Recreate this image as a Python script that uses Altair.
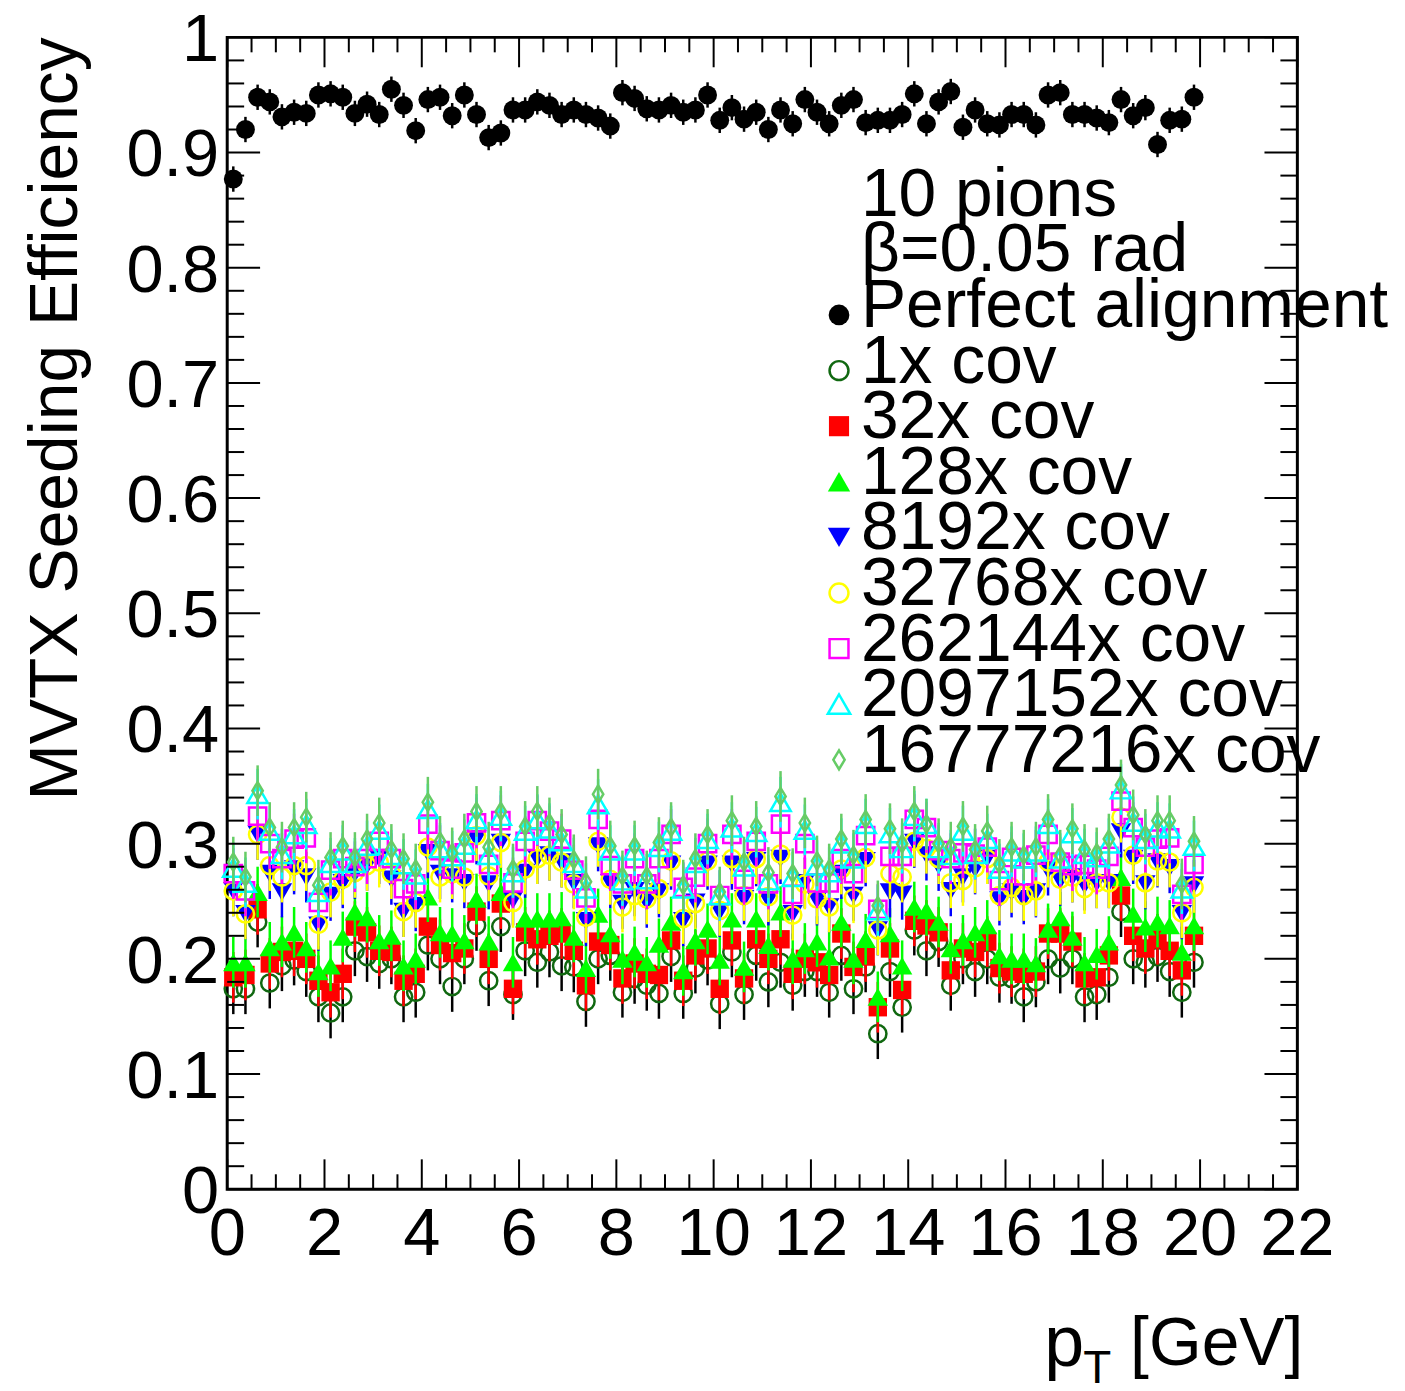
import altair as alt
import pandas as pd
import numpy as np

# ---------------- data ----------------
bin_edges = np.arange(0.0, 20.0001, 0.25)
pt = list((bin_edges[:-1] + bin_edges[1:]) / 2)

perfect = [0.877,0.920,0.948,0.944,0.931,0.935,0.934,0.950,0.951,0.948,
           0.934,0.942,0.933,0.955,0.941,0.919,0.946,0.948,0.932,0.950,
           0.933,0.913,0.917,0.937,0.937,0.944,0.941,0.933,0.937,0.933,
           0.930,0.923,0.952,0.947,0.938,0.937,0.941,0.935,0.937,0.950,
           0.928,0.939,0.929,0.935,0.920,0.937,0.925,0.946,0.935,0.925,
           0.941,0.946,0.926,0.928,0.928,0.933,0.951,0.925,0.944,0.953,
           0.922,0.937,0.925,0.924,0.933,0.933,0.924,0.950,0.952,0.933,
           0.933,0.930,0.926,0.946,0.932,0.939,0.907,0.928,0.929,0.948]

cov1 = [0.174,0.174,0.232,0.179,0.194,0.199,0.189,0.167,0.153,0.167,
        0.207,0.202,0.196,0.200,0.167,0.171,0.212,0.200,0.176,0.200,
        0.229,0.181,0.228,0.169,0.207,0.197,0.206,0.194,0.193,
        0.163,0.200,0.203,0.171,0.183,0.177,0.170,0.202,0.170,0.192,
        0.199,0.161,0.206,0.169,0.203,0.180,0.197,0.177,0.189,0.189,
        0.171,0.203,0.174,0.193,0.135,0.189,0.158,0.225,
        0.207,0.215,0.177,0.200,0.189,0.200,0.184,0.183,0.167,0.180,
        0.200,0.192,0.200,0.167,0.169,0.184,0.241,0.200,0.197,0.202,
        0.189,0.171,0.197]

cov32 = [0.184,0.186,0.243,0.196,0.206,0.207,0.200,0.181,0.171,0.187,
         0.228,0.223,0.207,0.206,0.181,0.187,0.228,0.212,0.205,0.209,
         0.241,0.200,0.248,0.174,0.223,0.217,0.220,0.222,0.207,
         0.177,0.215,0.212,0.183,0.196,0.187,0.186,0.216,0.181,0.203,
         0.209,0.174,0.216,0.183,0.217,0.200,0.217,0.187,0.200,0.197,
         0.186,0.222,0.193,0.202,0.158,0.209,0.173,0.233,
         0.229,0.223,0.190,0.209,0.206,0.215,0.192,0.189,0.187,0.189,
         0.222,0.222,0.215,0.183,0.184,0.203,0.255,0.220,0.209,0.217,
         0.207,0.190,0.220]

cov128 = [0.197,0.197,0.258,0.210,0.215,0.223,0.210,0.189,0.194,0.219,
          0.241,0.236,0.216,0.220,0.194,0.200,0.254,0.223,0.222,0.216,
          0.252,0.215,0.258,0.197,0.235,0.235,0.235,0.236,0.219,
          0.192,0.239,0.222,0.200,0.206,0.197,0.213,0.232,0.190,0.216,
          0.226,0.199,0.235,0.193,0.235,0.212,0.241,0.200,0.209,0.215,
          0.202,0.232,0.200,0.217,0.167,0.222,0.194,0.245,
          0.242,0.232,0.209,0.216,0.223,0.229,0.203,0.200,0.200,0.196,
          0.226,0.236,0.219,0.197,0.204,0.215,0.271,0.239,0.228,0.232,
          0.229,0.206,0.229]

cov8192 = [0.259,0.239,0.308,0.274,0.258,0.278,0.271,0.229,0.255,0.266,
           0.274,0.281,0.287,0.269,0.241,0.246,0.292,0.274,0.271,0.266,
           0.304,0.265,0.301,0.251,0.275,0.287,0.290,0.284,0.266,
           0.233,0.298,0.266,0.248,0.259,0.249,0.258,0.282,0.233,0.249,
           0.282,0.241,0.282,0.252,0.285,0.251,0.287,0.239,0.266,0.251,
           0.245,0.274,0.255,0.285,0.225,0.258,0.256,0.301,
           0.290,0.281,0.259,0.271,0.278,0.287,0.251,0.258,0.252,0.258,
           0.277,0.268,0.271,0.264,0.266,0.266,0.310,0.287,0.265,0.284,
           0.279,0.239,0.264]

cov32768 = [0.259,0.239,0.308,0.281,0.271,0.281,0.281,0.230,0.258,0.269,
            0.275,0.281,0.284,0.274,0.241,0.249,0.297,0.271,0.274,0.271,
            0.307,0.272,0.301,0.249,0.278,0.287,0.290,0.284,0.265,
            0.236,0.302,0.269,0.245,0.255,0.252,0.261,0.285,0.235,0.248,
            0.285,0.242,0.287,0.255,0.287,0.254,0.291,0.238,0.265,0.252,
            0.245,0.278,0.253,0.288,0.225,0.274,0.271,0.302,
            0.296,0.287,0.266,0.268,0.279,0.287,0.255,0.262,0.255,0.259,
            0.284,0.269,0.271,0.261,0.266,0.266,0.323,0.290,0.266,0.285,
            0.284,0.240,0.262]

cov262144 = [0.274,0.259,0.324,0.300,0.287,0.304,0.305,0.249,0.277,0.287,
             0.280,0.287,0.302,0.287,0.261,0.265,0.317,0.294,0.278,0.292,
             0.318,0.282,0.320,0.266,0.302,0.320,0.311,0.304,0.277,
             0.253,0.321,0.281,0.265,0.287,0.265,0.287,0.308,0.262,0.271,
             0.300,0.255,0.308,0.269,0.302,0.265,0.317,0.256,0.300,0.266,
             0.266,0.287,0.274,0.307,0.243,0.289,0.289,0.321,
             0.314,0.294,0.287,0.292,0.291,0.297,0.268,0.288,0.272,0.290,
             0.308,0.284,0.281,0.282,0.278,0.289,0.337,0.314,0.297,0.304,
             0.305,0.256,0.282]

cov2097152 = [0.279,0.266,0.343,0.311,0.291,0.308,0.317,0.258,0.283,0.294,
              0.283,0.298,0.312,0.290,0.282,0.273,0.330,0.296,0.289,0.299,
              0.321,0.290,0.324,0.275,0.311,0.321,0.313,0.302,0.283,
              0.261,0.334,0.294,0.268,0.294,0.269,0.297,0.311,0.261,0.283,
              0.304,0.255,0.314,0.280,0.310,0.268,0.336,0.271,0.312,0.281,
              0.275,0.300,0.287,0.317,0.242,0.309,0.296,0.324,
              0.317,0.296,0.290,0.311,0.291,0.304,0.278,0.293,0.287,0.293,
              0.317,0.287,0.309,0.291,0.288,0.300,0.347,0.319,0.304,0.314,
              0.313,0.261,0.298]

cov16777216 = [0.284,0.271,0.346,0.314,0.297,0.314,0.323,0.264,0.288,0.298,
               0.288,0.304,0.318,0.295,0.287,0.278,0.336,0.302,0.292,0.304,
               0.328,0.297,0.328,0.278,0.315,0.328,0.318,0.308,0.286,
               0.267,0.343,0.298,0.272,0.298,0.272,0.301,0.314,0.264,0.287,
               0.308,0.258,0.320,0.284,0.315,0.275,0.341,0.274,0.318,0.285,
               0.278,0.304,0.290,0.321,0.246,0.313,0.300,0.328,
               0.317,0.300,0.297,0.315,0.295,0.311,0.282,0.297,0.290,0.297,
               0.321,0.290,0.313,0.295,0.292,0.304,0.351,0.325,0.308,0.320,
               0.320,0.265,0.302]

labels = ["Perfect alignment", "1x cov", "32x cov", "128x cov", "8192x cov",
          "32768x cov", "262144x cov", "2097152x cov", "16777216x cov"]
values = [perfect, cov1, cov32, cov128, cov8192, cov32768, cov262144,
          cov2097152, cov16777216]
errors = [0.011, 0.022, 0.022, 0.022, 0.022, 0.022, 0.022, 0.022, 0.022]

for v in values:
    assert len(v) == 80, len(v)

x_major = list(range(0, 23, 2))
x_major_labels = [str(v) for v in x_major]
x_minor = [v / 2 for v in range(0, 45) if v % 4 != 0]
y_major = [round(v * 0.1, 2) for v in range(0, 11)]
y_major_labels = ["0", "0.1", "0.2", "0.3", "0.4", "0.5", "0.6", "0.7", "0.8", "0.9", "1"]
y_minor = [round(v * 0.02, 2) for v in range(0, 51) if v % 5 != 0]

# ---------------- styles ----------------
DIAMOND = "M0,-1L0.6,0L0,1L-0.6,0Z"
styles = [
    dict(shape="circle", filled=True, color="black", ecolor="black", size=360),
    dict(shape="circle", filled=False, color="#106810", ecolor="black", size=300),
    dict(shape="square", filled=True, color="#ff0000", ecolor="#ff0000", size=340),
    dict(shape="triangle-up", filled=True, color="#00ff00", ecolor="#00ff00", size=420),
    dict(shape="triangle-down", filled=True, color="#0000ff", ecolor="#0000ff", size=420),
    dict(shape="circle", filled=False, color="#ffff00", ecolor="#ffff00", size=300),
    dict(shape="square", filled=False, color="#ff00ff", ecolor="#ff00ff", size=300),
    dict(shape="triangle-up", filled=False, color="#00ffff", ecolor="#00ffff", size=420),
    dict(shape=DIAMOND, filled=False, color="#66cc66", ecolor="#66cc66", size=300),
]

W, H = 1074, 1156
FONT = "Liberation Sans"
FS = 67
LFS = 68
xs = alt.Scale(domain=[0, 22], nice=False, zero=False)
ys = alt.Scale(domain=[0, 1], nice=False, zero=False)

layers = []

# data series: error bars then markers
for lab, vals, err, st in zip(labels, values, errors, styles):
    df = pd.DataFrame({"pt": pt, "eff": vals})
    df["lo"] = df["eff"] - err
    df["hi"] = df["eff"] + err
    base = alt.Chart(df)
    rule = base.mark_rule(color=st["ecolor"], strokeWidth=2.5).encode(
        x=alt.X("pt:Q", scale=xs, axis=None),
        y=alt.Y("lo:Q", scale=ys, axis=None),
        y2="hi:Q",
    )
    pts = base.mark_point(shape=st["shape"], filled=st["filled"], color=st["color"],
                          size=st["size"], strokeWidth=2.5, opacity=1).encode(
        x=alt.X("pt:Q", scale=xs, axis=None),
        y=alt.Y("eff:Q", scale=ys, axis=None),
    )
    layers += [rule, pts]

# inward ticks (ROOT style) on all four sides
def xticks(vals, length):
    d = pd.DataFrame({"tv": vals})
    b = alt.Chart(d).mark_rule(color="black", strokeWidth=2)
    bottom = b.encode(x=alt.X("tv:Q", scale=xs, axis=None), y=alt.value(H), y2=alt.value(H - length))
    top = b.encode(x=alt.X("tv:Q", scale=xs, axis=None), y=alt.value(0), y2=alt.value(length))
    return [bottom, top]

def yticks(vals, length):
    d = pd.DataFrame({"tv": vals})
    b = alt.Chart(d).mark_rule(color="black", strokeWidth=2)
    left = b.encode(y=alt.Y("tv:Q", scale=ys, axis=None), x=alt.value(0), x2=alt.value(length))
    right = b.encode(y=alt.Y("tv:Q", scale=ys, axis=None), x=alt.value(W), x2=alt.value(W - length))
    return [left, right]

layers += xticks(x_major, 30) + xticks(x_minor, 15) + yticks(y_major, 33) + yticks(y_minor, 17)

# tick labels
xl = pd.DataFrame({"tv": x_major, "lab": x_major_labels})
layers.append(alt.Chart(xl).mark_text(font=FONT, fontSize=FS, align="center", baseline="alphabetic",
                                      color="black").encode(
    x=alt.X("tv:Q", scale=xs, axis=None), y=alt.value(H + 66), text="lab:N"))
yl = pd.DataFrame({"tv": y_major, "lab": y_major_labels})
layers.append(alt.Chart(yl).mark_text(font=FONT, fontSize=FS, align="right", baseline="alphabetic",
                                      dy=24, color="black").encode(
    y=alt.Y("tv:Q", scale=ys, axis=None), x=alt.value(-8), text="lab:N"))

# titles
def text_layer(txt, x, y, size=FS, align="left", angle=0, baseline="alphabetic"):
    return alt.Chart(pd.DataFrame({"t": [txt]})).mark_text(
        font=FONT, fontSize=size, align=align, baseline=baseline, angle=angle,
        color="black", fill="black"
    ).encode(text="t:N", x=alt.value(x), y=alt.value(y))

layers.append(text_layer("MVTX Seeding Efficiency", -151, 0, size=68, align="right", angle=270))
layers.append(text_layer("[GeV]", W + 6, 1332, size=68, align="right"))
layers.append(text_layer("p", 820, 1333, size=72))
layers.append(text_layer("T", 859, 1350, size=46))

# legend (ROOT TLegend style, drawn manually)
LX_TEXT = 636
LX_MARK = 614
row_base = 179
row_step = 55.8
headers = ["10 pions", "β=0.05 rad"]
for i, h in enumerate(headers):
    layers.append(text_layer(h, LX_TEXT, row_base + row_step * i, size=LFS))
for j, (lab, st) in enumerate(zip(labels, styles)):
    i = j + 2
    yb = row_base + row_step * i
    layers.append(text_layer(lab, LX_TEXT, yb, size=LFS))
    mk = alt.Chart(pd.DataFrame({"t": [lab]})).mark_point(
        shape=st["shape"], filled=st["filled"], color=st["color"],
        size=st["size"] * 1.2, strokeWidth=2.5, opacity=1
    ).encode(x=alt.value(LX_MARK), y=alt.value(yb - 12))
    layers.append(mk)

chart = alt.layer(*layers).properties(
    width=W, height=H,
    autosize=alt.AutoSizeParams(type="none"),
    padding={"left": 220, "top": 27, "right": 100, "bottom": 196},
    background="white",
).configure_view(stroke="black", strokeWidth=3)

chart.save("out.html", embed_options={"renderer": "svg", "actions": False})
